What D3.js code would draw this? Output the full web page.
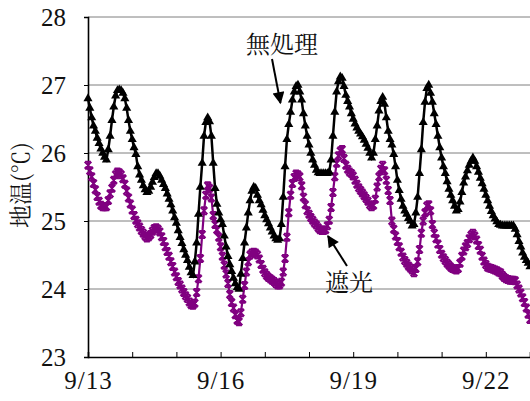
<!DOCTYPE html>
<html>
<head>
<meta charset="utf-8">
<script src="https://cdn.jsdelivr.net/npm/d3@7/dist/d3.min.js"></script>
<style>
  html, body { margin: 0; padding: 0; background: #fff; }
  svg { display: block; }
</style>
</head>
<body>
<svg id="chart" width="530" height="401"></svg>
<script>
// Hourly soil temperature (°C), starting 9/13 00:00, 241 readings each
const soilBare = [
  26.80, 26.66, 26.52, 26.40, 26.32, 26.22, 26.14, 26.06, 26.00, 25.94,
  25.90, 26.05, 26.25, 26.48, 26.68, 26.84, 26.92, 26.93, 26.92, 26.88,
  26.80, 26.66, 26.48, 26.32, 26.20, 26.08, 25.98, 25.80, 25.68, 25.60,
  25.52, 25.46, 25.42, 25.44, 25.50, 25.57, 25.64, 25.70, 25.70, 25.66,
  25.60, 25.54, 25.48, 25.40, 25.32, 25.24, 25.15, 25.05, 24.97, 24.86,
  24.76, 24.67, 24.58, 24.50, 24.42, 24.32, 24.24, 24.20, 24.40, 24.68,
  25.10, 25.50, 25.85, 26.25, 26.45, 26.52, 26.46, 26.25, 25.85, 25.48,
  25.25, 25.12, 25.02, 24.95, 24.78, 24.62, 24.48, 24.36, 24.26, 24.16,
  24.08, 24.02, 24.00, 24.22, 24.45, 24.68, 24.90, 25.12, 25.30, 25.44,
  25.50, 25.48, 25.38, 25.30, 25.24, 25.16, 25.08, 25.02, 24.96, 24.90,
  24.84, 24.78, 24.74, 24.72, 24.74, 24.95, 25.35, 25.80, 26.20, 26.42,
  26.60, 26.78, 26.90, 26.98, 27.00, 26.90, 26.78, 26.58, 26.40, 26.25,
  26.12, 26.00, 25.90, 25.82, 25.75, 25.71, 25.70, 25.70, 25.70, 25.70,
  25.70, 25.72, 25.90, 26.25, 26.60, 26.90, 27.05, 27.12, 27.10, 26.98,
  26.85, 26.76, 26.68, 26.58, 26.50, 26.43, 26.37, 26.32, 26.28, 26.24,
  26.19, 26.13, 26.07, 26.00, 25.93, 26.00, 26.20, 26.40, 26.62, 26.76,
  26.82, 26.72, 26.52, 26.32, 26.20, 26.12, 25.98, 25.80, 25.60, 25.45,
  25.32, 25.22, 25.15, 25.10, 25.04, 25.00, 24.93, 24.95, 25.12, 25.35,
  25.70, 26.05, 26.45, 26.75, 26.95, 27.00, 26.88, 26.75, 26.58, 26.42,
  26.25, 26.08, 25.93, 25.80, 25.70, 25.58, 25.47, 25.38, 25.30, 25.22,
  25.15, 25.17, 25.28, 25.42, 25.56, 25.65, 25.74, 25.82, 25.88, 25.93,
  25.88, 25.80, 25.72, 25.63, 25.55, 25.47, 25.38, 25.30, 25.22, 25.14,
  25.08, 25.03, 24.99, 24.95, 24.94, 24.93, 24.93, 24.93, 24.93, 24.93,
  24.93, 24.93, 24.88, 24.80, 24.70, 24.62, 24.53, 24.47, 24.42, 24.38,
  24.33
];

const soilShaded = [
  25.82, 25.74, 25.65, 25.55, 25.46, 25.36, 25.29, 25.23, 25.21, 25.21,
  25.21, 25.30, 25.40, 25.48, 25.60, 25.68, 25.72, 25.71, 25.68, 25.62,
  25.54, 25.44, 25.34, 25.25, 25.16, 25.08, 25.01, 24.96, 24.91, 24.86,
  24.82, 24.78, 24.75, 24.77, 24.80, 24.85, 24.89, 24.90, 24.88, 24.84,
  24.77, 24.70, 24.62, 24.55, 24.48, 24.40, 24.33, 24.25, 24.18, 24.11,
  24.06, 24.00, 23.95, 23.90, 23.86, 23.81, 23.77, 23.76, 23.79, 23.95,
  24.15, 24.45, 24.80, 25.15, 25.38, 25.52, 25.48, 25.34, 25.08, 24.95,
  24.87, 24.76, 24.62, 24.48, 24.35, 24.22, 24.08, 23.92, 23.80, 23.72,
  23.62, 23.54, 23.52, 23.65, 23.85, 24.05, 24.25, 24.40, 24.50, 24.53,
  24.54, 24.53, 24.50, 24.44, 24.36, 24.29, 24.24, 24.20, 24.17, 24.15,
  24.13, 24.11, 24.08, 24.06, 24.06, 24.10, 24.25, 24.45, 24.76, 25.12,
  25.38, 25.55, 25.64, 25.69, 25.68, 25.65, 25.52, 25.35, 25.24, 25.15,
  25.10, 25.05, 25.01, 24.97, 24.94, 24.90, 24.87, 24.86, 24.86, 24.87,
  24.93, 25.01, 25.20, 25.42, 25.65, 25.85, 25.96, 26.03, 26.05, 25.92,
  25.82, 25.76, 25.72, 25.70, 25.66, 25.60, 25.54, 25.49, 25.45, 25.41,
  25.37, 25.33, 25.29, 25.24, 25.21, 25.23, 25.32, 25.50, 25.65, 25.76,
  25.82, 25.74, 25.60, 25.45, 25.30, 25.00, 24.88, 24.78, 24.70, 24.62,
  24.54, 24.47, 24.42, 24.38, 24.34, 24.31, 24.28, 24.24, 24.30, 24.40,
  24.58, 24.82, 25.00, 25.12, 25.22, 25.24, 25.15, 24.95, 24.82, 24.74,
  24.66, 24.58, 24.51, 24.46, 24.42, 24.38, 24.35, 24.32, 24.30, 24.29,
  24.28, 24.30, 24.38, 24.48, 24.56, 24.62, 24.67, 24.74, 24.79, 24.82,
  24.78, 24.72, 24.64, 24.57, 24.48, 24.41, 24.36, 24.32, 24.31, 24.30,
  24.29, 24.28, 24.27, 24.25, 24.24, 24.20, 24.17, 24.15, 24.14, 24.13,
  24.13, 24.13, 24.12, 24.06, 24.00, 23.94, 23.87, 23.80, 23.72, 23.63,
  23.55
];

// Day ticks (days after 9/13) and their labels; only every third day is labelled
const dayTicks = [0, 1, 2, 3, 4, 5, 6, 7, 8, 9, 10];
const dayLabels = ["9/13", "", "", "9/16", "", "", "9/19", "", "", "9/22", ""];
const tempTicks = [23, 24, 25, 26, 27, 28];
const seriesNames = ["無処理", "遮光"];
const yTitle = "地温(℃)";

const svg = d3.select("#chart");
const plot = { left: 88, right: 530, top: 17, bottom: 357 };

const x = d3.scaleLinear().domain([0, 240]).range([plot.left, plot.right]);
const xDay = d3.scaleLinear().domain([0, 10]).range([plot.left, plot.right]);
const y = d3.scaleLinear().domain([23, 28]).range([plot.bottom, plot.top]);

const mincho = '"Noto Serif CJK JP", "Liberation Serif", serif';
const numeric = '"Liberation Serif", "Noto Serif CJK JP", serif';

// Horizontal gridlines
svg.append("g")
  .selectAll("line")
  .data(tempTicks.filter(t => t > 23))
  .join("line")
  .attr("x1", plot.left).attr("x2", plot.right)
  .attr("y1", d => y(d)).attr("y2", d => y(d))
  .attr("stroke", "#7f7f7f").attr("stroke-width", 1);

// Y axis
const yAxis = svg.append("g")
  .attr("transform", `translate(${plot.left},0)`)
  .call(d3.axisLeft(y).tickValues(tempTicks).tickSize(4).tickPadding(18).tickFormat(d3.format("d")));
yAxis.select(".domain").attr("stroke", "#000").attr("stroke-width", 1.6);
yAxis.selectAll(".tick line").attr("stroke", "#000");
yAxis.selectAll("text")
  .style("font-family", numeric).style("font-size", "25px").attr("fill", "#111")
  .attr("dy", "0.34em");

// X axis (ticks point inward)
const xAxis = svg.append("g")
  .attr("transform", `translate(0,${plot.bottom})`)
  .call(d3.axisBottom(xDay).tickValues(dayTicks).tickSize(-5).tickPadding(14)
    .tickFormat((d, i) => dayLabels[i]));
xAxis.select(".domain").attr("stroke", "#000").attr("stroke-width", 1.6);
xAxis.selectAll(".tick line").attr("stroke", "#000");
xAxis.selectAll("text")
  .style("font-family", numeric).style("font-size", "25px").attr("fill", "#111")
  .attr("letter-spacing", 1).attr("dy", "0.72em");

// Y title
svg.append("text")
  .attr("transform", "translate(29,185) rotate(-90)")
  .attr("text-anchor", "middle")
  .style("font-family", mincho).style("font-size", "23px").attr("fill", "#111")
  .text(yTitle);

const line = d3.line().x((d, i) => x(i)).y(d => y(d));

// Shaded plot (purple, star markers)
const purple = "#800080";
svg.append("path").datum(soilShaded)
  .attr("d", line).attr("fill", "none")
  .attr("stroke", purple).attr("stroke-width", 2.2);
const star = "M-3.4,-3.4L3.4,3.4M-3.4,3.4L3.4,-3.4M0,-3.9L0,3.9M-2.9,-3.6L2.9,-3.6M-2.9,3.6L2.9,3.6";
svg.append("g").selectAll("path")
  .data(soilShaded)
  .join("path")
  .attr("transform", (d, i) => `translate(${x(i)},${y(d)})`)
  .attr("d", star)
  .attr("fill", "none").attr("stroke", purple).attr("stroke-width", 1.8);

// Untreated plot (black, triangle markers)
svg.append("path").datum(soilBare)
  .attr("d", line).attr("fill", "none")
  .attr("stroke", "#000").attr("stroke-width", 2.5);
const tri = d3.symbol().type(d3.symbolTriangle).size(36);
svg.append("g").selectAll("path")
  .data(soilBare)
  .join("path")
  .attr("transform", (d, i) => `translate(${x(i)},${y(d)})`)
  .attr("d", tri)
  .attr("fill", "#000");

// Series labels with arrows
svg.append("defs").append("marker")
  .attr("id", "arrowhead")
  .attr("viewBox", "0 0 10 10")
  .attr("refX", 9).attr("refY", 5)
  .attr("markerWidth", 7.5).attr("markerHeight", 6)
  .attr("markerUnits", "strokeWidth")
  .attr("orient", "auto")
  .append("path").attr("d", "M0,0L10,5L0,10Z").attr("fill", "#000");

svg.append("text")
  .attr("x", 282).attr("y", 53)
  .attr("text-anchor", "middle")
  .style("font-family", mincho).style("font-size", "24px").attr("fill", "#111")
  .text(seriesNames[0]);
svg.append("line")
  .attr("x1", 272).attr("y1", 59).attr("x2", x(104.5)).attr("y2", 103)
  .attr("stroke", "#000").attr("stroke-width", 2)
  .attr("marker-end", "url(#arrowhead)");

svg.append("text")
  .attr("x", 349).attr("y", 291)
  .attr("text-anchor", "middle")
  .style("font-family", mincho).style("font-size", "24px").attr("fill", "#111")
  .text(seriesNames[1]);
svg.append("line")
  .attr("x1", 347).attr("y1", 266).attr("x2", x(130.3)).attr("y2", 236)
  .attr("stroke", "#000").attr("stroke-width", 2)
  .attr("marker-end", "url(#arrowhead)");
</script>
</body>
</html>
